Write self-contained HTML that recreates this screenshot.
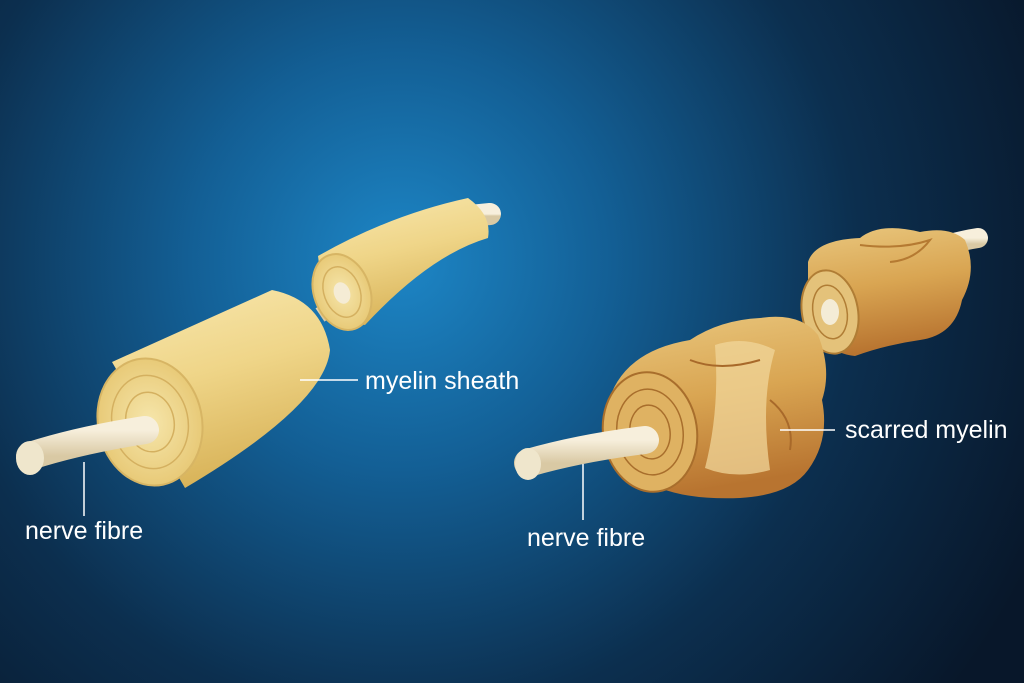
<!DOCTYPE html>
<html><head><meta charset="utf-8"><style>
html,body{margin:0;padding:0;width:1024px;height:683px;overflow:hidden;background:#0b1a2c}
svg{display:block}
text{font-family:"Liberation Sans",sans-serif;fill:#fff;font-size:25px}
</style></head><body>
<svg width="1024" height="683" viewBox="0 0 1024 683">
<defs>
<radialGradient id="bg" cx="400" cy="260" r="700" gradientUnits="userSpaceOnUse">
<stop offset="0" stop-color="#1d86c6"/><stop offset="0.3" stop-color="#135f95"/><stop offset="0.65" stop-color="#0c2f4f"/><stop offset="1" stop-color="#08172a"/>
</radialGradient>
<linearGradient id="cyl" x1="0" y1="0" x2="0.3" y2="1">
<stop offset="0" stop-color="#f8e8b0"/><stop offset="0.5" stop-color="#efd588"/><stop offset="1" stop-color="#d9b45a"/>
</linearGradient>
<radialGradient id="face" cx="0.5" cy="0.5" r="0.5">
<stop offset="0" stop-color="#f6e6ab"/><stop offset="1" stop-color="#e8ca78"/>
</radialGradient>
<linearGradient id="scar" x1="0" y1="0" x2="0.2" y2="1">
<stop offset="0" stop-color="#e9c77e"/><stop offset="0.5" stop-color="#d9a552"/><stop offset="1" stop-color="#b87430"/>
</linearGradient>
<linearGradient id="fib" x1="0" y1="0" x2="0" y2="1">
<stop offset="0" stop-color="#f7efdc"/><stop offset="1" stop-color="#d9c9a4"/>
</linearGradient>
</defs>
<rect width="1024" height="683" fill="url(#bg)"/>

<!-- LEFT -->
<path d="M470 216 L490 214" stroke="url(#fib)" stroke-width="22" stroke-linecap="round" fill="none"/>
<path d="M320 315 L350 295" stroke="url(#fib)" stroke-width="16" fill="none"/>
<!-- small segment -->
<path d="M318 256 Q390 215 468 198 Q492 215 488 238 Q430 255 365 325 Q325 320 318 256Z" fill="url(#cyl)"/>
<ellipse cx="342" cy="292" rx="28" ry="39" transform="rotate(-20 342 292)" fill="url(#face)" stroke="#d7b564" stroke-width="2"/>
<ellipse cx="342" cy="292" rx="18" ry="26" transform="rotate(-20 342 292)" fill="none" stroke="#d4b060" stroke-width="1.5"/>
<ellipse cx="342" cy="293" rx="8" ry="11" transform="rotate(-20 342 293)" fill="#f5ecd5"/>
<!-- big cylinder -->
<path d="M112 362 L272 290 Q322 300 330 350 Q325 405 185 488 Z" fill="url(#cyl)"/>
<ellipse cx="150" cy="422" rx="52" ry="64" transform="rotate(-12 150 422)" fill="url(#face)" stroke="#d7b564" stroke-width="2"/>
<ellipse cx="150" cy="422" rx="38" ry="47" transform="rotate(-12 150 422)" fill="none" stroke="#d4b060" stroke-width="1.5"/>
<ellipse cx="150" cy="422" rx="24" ry="30" transform="rotate(-12 150 422)" fill="none" stroke="#d4b060" stroke-width="1.5"/>
<path d="M30 456 Q80 440 145 430" stroke="url(#fib)" stroke-width="28" stroke-linecap="round" fill="none"/>
<ellipse cx="30" cy="458" rx="14" ry="17" fill="#efe6cc"/>
<line x1="300" y1="380" x2="358" y2="380" stroke="#fff" stroke-width="1.5"/>
<text x="365" y="389">myelin sheath</text>
<line x1="84" y1="462" x2="84" y2="516" stroke="#fff" stroke-width="1.5"/>
<text x="25" y="539">nerve fibre</text>

<!-- RIGHT -->
<path d="M950 244 Q965 240 978 238" stroke="url(#fib)" stroke-width="20" stroke-linecap="round" fill="none"/>
<path d="M810 335 L850 312" stroke="url(#fib)" stroke-width="16" fill="none"/>
<!-- small scarred -->
<path d="M808 262 Q815 240 860 238 Q880 222 920 232 Q950 226 965 240 Q978 270 962 300 Q955 335 920 340 Q885 345 855 356 Q815 352 808 300Z" fill="url(#scar)"/>
<path d="M860 245 Q900 250 930 240 Q915 260 890 262" fill="none" stroke="#b57a32" stroke-width="2"/>
<ellipse cx="830" cy="312" rx="28" ry="42" transform="rotate(-10 830 312)" fill="#e4c27a" stroke="#b07d35" stroke-width="2"/>
<ellipse cx="830" cy="312" rx="17" ry="27" transform="rotate(-10 830 312)" fill="none" stroke="#b07d35" stroke-width="1.5"/>
<ellipse cx="830" cy="312" rx="9" ry="13" fill="#f4ecd6"/>
<!-- big scarred -->
<path d="M612 392 Q630 350 690 340 Q720 320 760 318 Q800 312 818 335 Q832 370 822 400 Q830 440 808 470 Q790 495 740 498 Q690 500 660 488 Q620 480 612 450Z" fill="url(#scar)"/>
<path d="M715 345 Q745 335 775 350 Q760 400 770 470 Q735 480 705 468 Q720 410 715 345Z" fill="#f0d69a" opacity="0.75"/>
<path d="M690 360 Q720 372 760 360 M770 400 Q795 420 790 450" fill="none" stroke="#a8692a" stroke-width="2"/>
<ellipse cx="650" cy="432" rx="47" ry="60" transform="rotate(-8 650 432)" fill="#dfb262" stroke="#a86e2c" stroke-width="2"/>
<ellipse cx="650" cy="432" rx="33" ry="43" transform="rotate(-8 650 432)" fill="none" stroke="#a86e2c" stroke-width="1.5"/>
<ellipse cx="650" cy="432" rx="20" ry="27" transform="rotate(-8 650 432)" fill="none" stroke="#a86e2c" stroke-width="1.5"/>
<path d="M528 463 Q580 448 645 440" stroke="url(#fib)" stroke-width="28" stroke-linecap="round" fill="none"/>
<ellipse cx="528" cy="464" rx="13" ry="16" fill="#efe6cc"/>
<line x1="780" y1="430" x2="835" y2="430" stroke="#fff" stroke-width="1.5"/>
<text x="845" y="438">scarred myelin</text>
<line x1="583" y1="464" x2="583" y2="520" stroke="#fff" stroke-width="1.5"/>
<text x="527" y="546">nerve fibre</text>
</svg>
</body></html>
